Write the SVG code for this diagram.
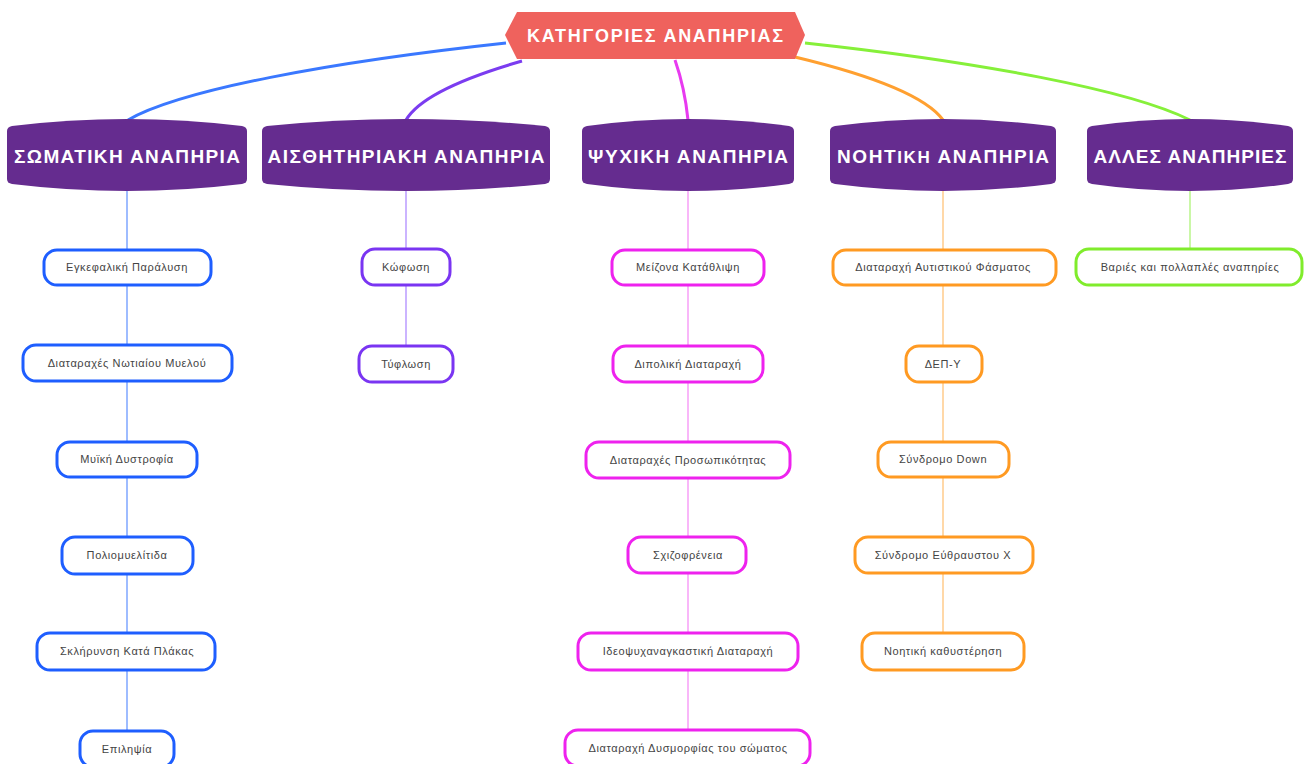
<svg xmlns="http://www.w3.org/2000/svg" width="1307" height="764" viewBox="0 0 1307 764">
<style>
.hdr{fill:#652C8F}
.ht{fill:#fff;font-family:"Liberation Sans",Arial,sans-serif;font-weight:bold;font-size:19px;text-anchor:middle}
.rt{font-size:18px}
.box{fill:#fff;stroke-width:3}
.ct{fill:#444;font-family:"Liberation Sans",Arial,sans-serif;font-size:11px;letter-spacing:0.6px;text-anchor:middle}
.b{stroke:#1E5EFF}.p{stroke:#7A35F2}.m{stroke:#EE22EE}.o{stroke:#FF9A22}.g{stroke:#80EC2C}
.lb{stroke:#7FA6FF}.lp{stroke:#BA9CFF}.lm{stroke:#F7A0F7}.lo{stroke:#FFCB8C}.lg{stroke:#B8F58A}
.v{stroke-width:1.5;fill:none}
.c{stroke-width:3;fill:none}
</style>
<rect width="1307" height="764" fill="#fff"/>
<g id="connectors">
<path class="c" stroke="#3A78FF" d="M506,43 C330,62 180,90 128,120"/>
<path class="c" stroke="#7B3CF0" d="M522,61 C470,76 420,96 406,120"/>
<path class="c" stroke="#E83AF0" d="M675,60 C682,80 686,100 688,120"/>
<path class="c" stroke="#FFA030" d="M795,57 C870,75 925,95 943,120"/>
<path class="c" stroke="#86F03A" d="M805,43 C980,62 1130,90 1190,120"/>
<path class="v lb" d="M127,190 V250 M127,285 V345 M127,381 V442 M127,477 V537 M127,574 V633 M127,670 V731"/>
<path class="v lp" d="M406,190 V249 M406,285 V346"/>
<path class="v lm" d="M688,190 V250 M688,285 V346 M688,382 V442 M688,478 V537 M688,573 V633 M688,670 V730"/>
<path class="v lo" d="M943,190 V250 M943,285 V346 M943,382 V442 M943,477 V537 M943,573 V633"/>
<path class="v lg" d="M1190,190 V249"/>
</g>
<g id="root">
<polygon points="517,12 795,12 805,35 795,59 517,59 505,35" fill="#EF625D"/>
<text class="ht rt" x="655" y="42" textLength="256" lengthAdjust="spacing">ΚΑΤΗΓΟΡΙΕΣ ΑΝΑΠΗΡΙΑΣ</text>
</g>
<g id="h1"><path class="hdr" d="M7,131 Q7,127 12,126 Q127,112 242,126 Q247,127 247,131 L247,179 Q247,183 242,184 Q127,198 12,184 Q7,183 7,179 Z"/><text class="ht" x="127" y="163" textLength="226" lengthAdjust="spacing">ΣΩΜΑΤΙΚΗ ΑΝΑΠΗΡΙΑ</text></g>
<g id="h2"><path class="hdr" d="M262,131 Q262,127 267,126 Q406,112 545,126 Q550,127 550,131 L550,179 Q550,183 545,184 Q406,198 267,184 Q262,183 262,179 Z"/><text class="ht" x="406" y="163" textLength="277" lengthAdjust="spacing">ΑΙΣΘΗΤΗΡΙΑΚΗ ΑΝΑΠΗΡΙΑ</text></g>
<g id="h3"><path class="hdr" d="M582,131 Q582,127 587,126 Q688,112 789,126 Q794,127 794,131 L794,179 Q794,183 789,184 Q688,198 587,184 Q582,183 582,179 Z"/><text class="ht" x="688" y="163" textLength="200" lengthAdjust="spacing">ΨΥΧΙΚΗ ΑΝΑΠΗΡΙΑ</text></g>
<g id="h4"><path class="hdr" d="M830,131 Q830,127 835,126 Q943,112 1051,126 Q1056,127 1056,131 L1056,179 Q1056,183 1051,184 Q943,198 835,184 Q830,183 830,179 Z"/><text class="ht" x="943" y="163" textLength="212" lengthAdjust="spacing">ΝΟΗΤ<tspan font-size="17">ΙΚΗ</tspan> ΑΝΑΠΗΡΙΑ</text></g>
<g id="h5"><path class="hdr" d="M1087,131 Q1087,127 1092,126 Q1190,112 1288,126 Q1293,127 1293,131 L1293,179 Q1293,183 1288,184 Q1190,198 1092,184 Q1087,183 1087,179 Z"/><text class="ht" x="1190" y="163" textLength="193" lengthAdjust="spacing">ΑΛΛΕΣ ΑΝΑΠΗΡΙΕΣ</text></g>
<g id="n1"><rect class="box b" x="44" y="250" width="167" height="35" rx="13"/><text class="ct" x="127" y="271">Εγκεφαλική Παράλυση</text></g>
<g id="n2"><rect class="box b" x="23" y="345" width="209" height="36" rx="13"/><text class="ct" x="127" y="367">Διαταραχές Νωτιαίου Μυελού</text></g>
<g id="n3"><rect class="box b" x="57" y="442" width="140" height="35" rx="13"/><text class="ct" x="127" y="463">Μυϊκή Δυστροφία</text></g>
<g id="n4"><rect class="box b" x="62" y="537" width="131" height="37" rx="13"/><text class="ct" x="127" y="559">Πολιομυελίτιδα</text></g>
<g id="n5"><rect class="box b" x="37" y="633" width="178" height="37" rx="13"/><text class="ct" x="127" y="655">Σκλήρυνση Κατά Πλάκας</text></g>
<g id="n6"><rect class="box b" x="80" y="731" width="94" height="36" rx="13"/><text class="ct" x="127" y="753">Επιληψία</text></g>
<g id="n7"><rect class="box p" x="362" y="249" width="88" height="36" rx="13"/><text class="ct" x="406" y="271">Κώφωση</text></g>
<g id="n8"><rect class="box p" x="359" y="346" width="94" height="36" rx="13"/><text class="ct" x="406" y="368">Τύφλωση</text></g>
<g id="n9"><rect class="box m" x="612" y="250" width="152" height="35" rx="13"/><text class="ct" x="688" y="271">Μείζονα Κατάθλιψη</text></g>
<g id="n10"><rect class="box m" x="613" y="346" width="150" height="36" rx="13"/><text class="ct" x="688" y="368">Διπολική Διαταραχή</text></g>
<g id="n11"><rect class="box m" x="586" y="442" width="204" height="36" rx="13"/><text class="ct" x="688" y="464">Διαταραχές Προσωπικότητας</text></g>
<g id="n12"><rect class="box m" x="628" y="537" width="118" height="36" rx="13"/><text class="ct" x="688" y="559">Σχιζοφρένεια</text></g>
<g id="n13"><rect class="box m" x="578" y="633" width="220" height="37" rx="13"/><text class="ct" x="688" y="655">Ιδεοψυχαναγκαστική Διαταραχή</text></g>
<g id="n14"><rect class="box m" x="565" y="730" width="245" height="36" rx="13"/><text class="ct" x="688" y="752">Διαταραχή Δυσμορφίας του σώματος</text></g>
<g id="n15"><rect class="box o" x="833" y="250" width="223" height="35" rx="13"/><text class="ct" x="943" y="271">Διαταραχή Αυτιστικού Φάσματος</text></g>
<g id="n16"><rect class="box o" x="906" y="346" width="76" height="36" rx="13"/><text class="ct" x="943" y="368">ΔΕΠ-Υ</text></g>
<g id="n17"><rect class="box o" x="878" y="442" width="131" height="35" rx="13"/><text class="ct" x="943" y="463">Σύνδρομο Down</text></g>
<g id="n18"><rect class="box o" x="855" y="537" width="178" height="36" rx="13"/><text class="ct" x="943" y="559">Σύνδρομο Εύθραυστου Χ</text></g>
<g id="n19"><rect class="box o" x="862" y="633" width="162" height="37" rx="13"/><text class="ct" x="943" y="655">Νοητική καθυστέρηση</text></g>
<g id="n20"><rect class="box g" x="1076" y="249" width="226" height="36" rx="13"/><text class="ct" x="1190" y="271">Βαριές και πολλαπλές αναπηρίες</text></g>
</svg>
